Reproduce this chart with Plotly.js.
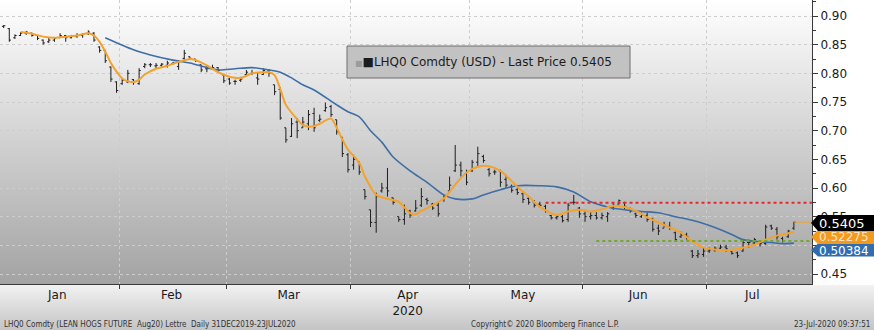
<!DOCTYPE html>
<html>
<head>
<meta charset="utf-8">
<script src="https://cdn.plot.ly/plotly-3.0.1.min.js"></script>
<style>html,body{margin:0;padding:0;background:#fff;}#chart{width:874px;height:330px;}</style>
</head>
<body>
<div id="chart"></div>
<script>
// ---------- DATA ----------
const dates = ['2019-12-31',
'2020-01-02','2020-01-03','2020-01-06','2020-01-07','2020-01-08','2020-01-09','2020-01-10','2020-01-13','2020-01-14','2020-01-15','2020-01-16','2020-01-17','2020-01-21','2020-01-22','2020-01-23','2020-01-24','2020-01-27','2020-01-28','2020-01-29','2020-01-30','2020-01-31',
'2020-02-03','2020-02-04','2020-02-05','2020-02-06','2020-02-07','2020-02-10','2020-02-11','2020-02-12','2020-02-13','2020-02-14','2020-02-18','2020-02-19','2020-02-20','2020-02-21','2020-02-24','2020-02-25','2020-02-26','2020-02-27','2020-02-28',
'2020-03-02','2020-03-03','2020-03-04','2020-03-05','2020-03-06','2020-03-09','2020-03-10','2020-03-11','2020-03-12','2020-03-13','2020-03-16','2020-03-17','2020-03-18','2020-03-19','2020-03-20','2020-03-23','2020-03-24','2020-03-25','2020-03-26','2020-03-27','2020-03-30','2020-03-31',
'2020-04-01','2020-04-02','2020-04-03','2020-04-06','2020-04-07','2020-04-08','2020-04-09','2020-04-13','2020-04-14','2020-04-15','2020-04-16','2020-04-17','2020-04-20','2020-04-21','2020-04-22','2020-04-23','2020-04-24','2020-04-27','2020-04-28','2020-04-29','2020-04-30',
'2020-05-01','2020-05-04','2020-05-05','2020-05-06','2020-05-07','2020-05-08','2020-05-11','2020-05-12','2020-05-13','2020-05-14','2020-05-15','2020-05-18','2020-05-19','2020-05-20','2020-05-21','2020-05-22','2020-05-26','2020-05-27','2020-05-28','2020-05-29',
'2020-06-01','2020-06-02','2020-06-03','2020-06-04','2020-06-05','2020-06-08','2020-06-09','2020-06-10','2020-06-11','2020-06-12','2020-06-15','2020-06-16','2020-06-17','2020-06-18','2020-06-19','2020-06-22','2020-06-23','2020-06-24','2020-06-25','2020-06-26','2020-06-29','2020-06-30',
'2020-07-01','2020-07-02','2020-07-06','2020-07-07','2020-07-08','2020-07-09','2020-07-10','2020-07-13','2020-07-14','2020-07-15','2020-07-16','2020-07-17','2020-07-20','2020-07-21','2020-07-22','2020-07-23'];

const openP = [.882,
.882,.878,.862,.866,.870,.870,.866,.858,.855,.858,.862,.866,.862,.864,.866,.869,.870,.846,.840,.811,.785,
.782,.785,.789,.782,.812,.815,.813,.814,.814,.817,.812,.826,.829,.825,.815,.808,.810,.810,.797,
.790,.786,.788,.798,.800,.792,.798,.804,.780,.772,.705,.690,.715,.705,.712,.730,.718,.735,.742,.719,.689,.658,
.640,.646,.597,.562,.540,.595,.600,.583,.550,.545,.560,.560,.570,.580,.572,.570,.580,.595,.630,.640,.625,
.630,.645,.655,.632,.628,.630,.615,.603,.597,.590,.582,.576,.572,.568,.552,.548,.550,.545,.575,.565,
.555,.550,.552,.548,.550,.565,.572,.574,.564,.555,.550,.552,.546,.530,.530,.533,.522,.515,.518,.490,.482,.484,
.490,.492,.495,.497,.490,.487,.490,.505,.504,.505,.503,.534,.528,.512,.515,.530];

const highP = [.884,
.884,.879,.868,.872,.874,.871,.867,.859,.862,.863,.870,.867,.867,.870,.870,.875,.872,.847,.841,.812,.786,
.792,.806,.790,.809,.818,.818,.818,.818,.822,.820,.823,.841,.829,.825,.815,.813,.815,.811,.797,
.792,.789,.794,.806,.806,.801,.809,.806,.780,.776,.705,.722,.722,.724,.736,.740,.728,.749,.745,.719,.689,.661,
.658,.646,.597,.562,.592,.609,.635,.583,.550,.571,.562,.579,.600,.583,.574,.576,.588,.620,.675,.646,.632,
.649,.672,.658,.635,.632,.632,.623,.606,.600,.592,.585,.579,.576,.571,.553,.553,.553,.574,.588,.567,
.562,.558,.558,.557,.558,.574,.580,.576,.566,.557,.557,.557,.548,.536,.541,.541,.524,.524,.522,.492,.492,.496,
.496,.498,.501,.501,.492,.489,.510,.510,.513,.508,.536,.536,.532,.515,.527,.541];

const lowP = [.880,
.879,.855,.860,.865,.867,.864,.858,.850,.853,.855,.862,.855,.861,.862,.862,.867,.855,.836,.818,.785,.766,
.780,.783,.780,.780,.809,.811,.809,.810,.810,.815,.806,.823,.823,.820,.802,.802,.806,.802,.783,
.780,.780,.785,.797,.797,.780,.797,.794,.762,.719,.679,.689,.687,.705,.701,.698,.715,.733,.724,.693,.654,.627,
.632,.623,.580,.532,.522,.592,.585,.571,.541,.536,.548,.559,.567,.571,.562,.550,.576,.592,.628,.620,.605,
.628,.637,.644,.620,.623,.602,.600,.592,.588,.574,.571,.566,.566,.557,.545,.545,.540,.541,.571,.548,
.541,.545,.545,.545,.541,.562,.571,.562,.557,.548,.548,.541,.524,.518,.531,.527,.506,.513,.510,.478,.478,.480,
.487,.489,.492,.489,.484,.478,.489,.496,.501,.498,.501,.527,.510,.505,.513,.527];

const closeP = [.882,
.883,.858,.866,.870,.872,.866,.861,.853,.858,.861,.866,.862,.865,.866,.868,.872,.858,.840,.822,.790,.770,
.788,.800,.785,.805,.815,.815,.814,.816,.818,.818,.820,.835,.826,.822,.806,.808,.810,.805,.787,
.783,.786,.790,.802,.801,.790,.805,.800,.768,.722,.684,.712,.700,.715,.728,.705,.720,.740,.728,.698,.660,.632,
.650,.628,.585,.540,.585,.600,.595,.575,.545,.555,.553,.565,.585,.578,.565,.555,.585,.605,.640,.630,.610,
.645,.660,.648,.625,.628,.610,.605,.596,.592,.580,.575,.570,.570,.560,.548,.550,.543,.570,.575,.555,
.550,.552,.548,.552,.555,.570,.578,.568,.560,.552,.553,.545,.528,.525,.535,.530,.510,.518,.515,.482,.485,.490,
.492,.495,.497,.494,.486,.482,.505,.505,.510,.503,.532,.530,.515,.508,.525,.5405];

// Moving averages
const fastMaDates = ['2020-01-07','2020-01-09','2020-01-13','2020-01-15','2020-01-17','2020-01-22','2020-01-24','2020-01-27','2020-01-28','2020-01-29','2020-01-30','2020-01-31',
'2020-02-03','2020-02-04','2020-02-05','2020-02-06','2020-02-07','2020-02-11','2020-02-13','2020-02-18','2020-02-20','2020-02-21','2020-02-25','2020-02-27',
'2020-03-02','2020-03-04','2020-03-06','2020-03-10','2020-03-11','2020-03-12','2020-03-13','2020-03-16','2020-03-18','2020-03-19','2020-03-20','2020-03-23','2020-03-24','2020-03-26','2020-03-27','2020-03-30','2020-03-31',
'2020-04-02','2020-04-03','2020-04-06','2020-04-07','2020-04-09','2020-04-14','2020-04-16','2020-04-17','2020-04-20','2020-04-22','2020-04-24','2020-04-28','2020-04-30',
'2020-05-04','2020-05-06','2020-05-08','2020-05-12','2020-05-13','2020-05-15','2020-05-19','2020-05-22','2020-05-27','2020-05-29',
'2020-06-02','2020-06-04','2020-06-08','2020-06-10','2020-06-12','2020-06-16','2020-06-18','2020-06-22','2020-06-24','2020-06-26','2020-06-30',
'2020-07-06','2020-07-08','2020-07-10','2020-07-14','2020-07-16','2020-07-20','2020-07-22','2020-07-23'];
const fastMa = [.872,.869,.864,.862,.864,.866,.870,.866,.855,.838,.818,.803,
.791,.786,.785,.789,.798,.808,.813,.820,.825,.823,.814,.802,
.794,.792,.800,.802,.802,.797,.773,.745,.720,.710,.707,.708,.712,.721,.705,.685,.667,
.644,.620,.602,.588,.581,.576,.556,.554,.560,.570,.582,.606,.627,
.637,.638,.630,.612,.602,.585,.567,.553,.559,.562,
.559,.563,.569,.567,.560,.549,.540,.531,.522,.507,.496,
.492,.492,.496,.501,.510,.517,.521,.52275];

const slowMaDates = ['2020-01-29','2020-02-05','2020-02-10','2020-02-14','2020-02-20','2020-02-25','2020-02-27',
'2020-03-03','2020-03-06','2020-03-11','2020-03-13','2020-03-17','2020-03-19','2020-03-23','2020-03-27','2020-03-31',
'2020-04-02','2020-04-06','2020-04-08','2020-04-13','2020-04-16','2020-04-21','2020-04-24','2020-04-28',
'2020-05-01','2020-05-05','2020-05-08','2020-05-13','2020-05-19','2020-05-22','2020-05-28',
'2020-06-02','2020-06-05','2020-06-10','2020-06-15','2020-06-18','2020-06-23','2020-06-25','2020-06-29',
'2020-07-02','2020-07-08','2020-07-10','2020-07-15','2020-07-17','2020-07-21','2020-07-23'];
const slowMa = [.862,.841,.832,.823,.818,.810,.806,
.808,.810,.806,.802,.792,.780,.771,.745,.733,
.724,.700,.680,.654,.630,.610,.588,.581,
.581,.588,.597,.604,.604,.602,.593,
.576,.567,.562,.559,.557,.550,.546,.541,
.531,.519,.510,.506,.505,.503,.50384];

const resistanceLevel = 0.5745, resistanceStart = '2020-05-20';
const supportLevel = 0.5075, supportStart = '2020-06-03';
const lastPrice = 0.5405;
const lastFast = 0.52275, lastSlow = 0.50384;

const monthTickVals = ['2020-01-15 12:00','2020-02-13 18:00','2020-03-16 12:00','2020-04-15 14:00','2020-05-14 00:00','2020-06-12 10:00','2020-07-13 15:00'];
const monthTickText = ['Jan','Feb','Mar','Apr<br>2020','May','Jun','Jul'];
const monthBounds = ['2020-01-31 12:00','2020-02-28 12:00','2020-03-31 12:00','2020-04-30 12:00','2020-05-29 12:00','2020-06-30 12:00'];
const holidays = ['2020-01-01','2020-01-20','2020-02-17','2020-04-10','2020-05-25','2020-07-03'];

const legendText = 'LHQ0 Comdty (USD) - Last Price ' + lastPrice.toFixed(4);
const footLeft = 'LHQ0 Comdty (LEAN HOGS FUTURE  Aug20) Lettre  Daily 31DEC2019-23JUL2020';
const footMid = 'Copyright\u00A9 2020 Bloomberg Finance L.P.';
const footRight = '23-Jul-2020 09:37:51';

// ---------- LAYOUT HELPERS (pixel positions -> paper) ----------
const W = 874, H = 330, PL = 0, PR = 62, PT = 0, PB = 46;
const PW = W - PL - PR, PH = H - PT - PB;
const px = x => (x - PL) / PW;
const py = y => 1 - (y - PT) / PH;
const xEnd = '2020-07-28 05:00';

function grad(c1, c2) {
  const svg = "<svg xmlns='http://www.w3.org/2000/svg' width='10' height='100' preserveAspectRatio='none'><defs><linearGradient id='g' x1='0' y1='0' x2='0' y2='1'><stop offset='0' stop-color='" + c1 + "'/><stop offset='1' stop-color='" + c2 + "'/></linearGradient></defs><rect width='10' height='100' fill='url(#g)'/></svg>";
  return 'data:image/svg+xml;charset=utf-8,' + encodeURIComponent(svg);
}
function tagPath(yc, h) {
  const t = yc - h / 2, b = yc + h / 2;
  return 'M' + px(811) + ',' + py(yc) + ' L' + px(818) + ',' + py(t) + ' L' + px(874) + ',' + py(t) +
         ' L' + px(874) + ',' + py(b) + ' L' + px(818) + ',' + py(b) + ' Z';
}

const FONT = 'DejaVu Sans, Verdana, sans-serif';
const FOOT = 'Liberation Sans Narrow, DejaVu Sans Condensed, Liberation Sans, sans-serif';

const traces = [
  {type: 'ohlc', x: dates, open: openP, high: highP, low: lowP, close: closeP,
   increasing: {line: {color: '#1e1e1e', width: 1}}, decreasing: {line: {color: '#1e1e1e', width: 1}},
   tickwidth: 0.3, hoverinfo: 'skip', showlegend: false},
  {type: 'scatter', mode: 'lines', x: slowMaDates, y: slowMa,
   line: {color: '#3d6ea6', width: 1.6, shape: 'spline', smoothing: 0.8}, hoverinfo: 'skip', showlegend: false},
  {type: 'scatter', mode: 'lines', x: fastMaDates, y: fastMa,
   line: {color: '#f3a22e', width: 2, shape: 'spline', smoothing: 0.8}, hoverinfo: 'skip', showlegend: false}
];

const layout = {
  width: W, height: H,
  margin: {l: PL, r: PR, t: PT, b: PB, pad: 0},
  paper_bgcolor: '#ffffff', plot_bgcolor: 'rgba(0,0,0,0)',
  showlegend: false, hovermode: false,
  font: {family: FONT, color: '#1a1a1a', size: 12},
  xaxis: {
    type: 'date', range: ['2019-12-31 08:30', xEnd],
    rangebreaks: [{bounds: ['sat', 'mon']}, {values: holidays}],
    rangeslider: {visible: false},
    tickmode: 'array', tickvals: monthTickVals, ticktext: monthTickText,
    ticks: '', showgrid: false, zeroline: false,
    showline: true, linecolor: '#3a3a3a', linewidth: 1,
    tickfont: {family: FONT, size: 12, color: '#1a1a1a'},
    minor: {tickmode: 'array', tickvals: monthBounds, ticks: 'outside', ticklen: 4, tickcolor: '#3a3a3a',
            showgrid: true, gridcolor: '#cdcdcd', griddash: 'dot', gridwidth: 1},
    fixedrange: true
  },
  yaxis: {
    side: 'right', range: [0.4326, 0.9279], dtick: 0.05, tickformat: '.2f',
    ticks: 'outside', ticklen: 5, tickcolor: '#3a3a3a',
    showline: true, linecolor: '#3a3a3a', linewidth: 1,
    showgrid: true, gridcolor: '#cdcdcd', griddash: 'dot', gridwidth: 1, zeroline: false,
    tickfont: {family: FONT, size: 12, color: '#1a1a1a'},
    minor: {dtick: 0.025, ticks: 'outside', ticklen: 3, tickcolor: '#3a3a3a', showgrid: false},
    fixedrange: true
  },
  images: [
    {source: grad('#ffffff', '#a3a3a3'), xref: 'paper', yref: 'paper', x: 0, y: 1, sizex: 1, sizey: 1,
     xanchor: 'left', yanchor: 'top', sizing: 'stretch', layer: 'below'},
    {source: grad('#f2f2f2', '#c4c4c4'), xref: 'paper', yref: 'paper', x: 0, y: py(285), sizex: px(874), sizey: 45 / PH,
     xanchor: 'left', yanchor: 'top', sizing: 'stretch', layer: 'below'}
  ],
  shapes: [
    {type: 'line', xref: 'x', yref: 'y', x0: resistanceStart, x1: xEnd, y0: resistanceLevel, y1: resistanceLevel,
     line: {color: '#e8262e', width: 2, dash: 'dot'}},
    {type: 'line', xref: 'x', yref: 'y', x0: supportStart, x1: xEnd, y0: supportLevel, y1: supportLevel,
     line: {color: '#72a832', width: 2, dash: 'dot'}},
    {type: 'line', xref: 'x', yref: 'y', x0: dates[dates.length - 1], x1: xEnd, y0: lastPrice, y1: lastPrice,
     line: {color: '#f3a22e', width: 1}},
    // legend box
    {type: 'rect', xref: 'paper', yref: 'paper', x0: px(347), x1: px(630), y0: py(46), y1: py(78),
     fillcolor: '#c2c2c2', line: {color: '#6e6e6e', width: 1}},
    // right value tags
    {type: 'path', xref: 'paper', yref: 'paper', path: tagPath(250, 13), fillcolor: '#2f6db0', line: {width: 0}},
    {type: 'path', xref: 'paper', yref: 'paper', path: tagPath(237, 14), fillcolor: '#f39a1e', line: {width: 0}},
    {type: 'path', xref: 'paper', yref: 'paper', path: tagPath(223, 16), fillcolor: '#000000', line: {width: 0}}
  ],
  annotations: [
    {xref: 'paper', yref: 'paper', x: px(353), y: py(62), xanchor: 'left', yanchor: 'middle', showarrow: false,
     text: "<span style='font-size:8px;color:#9c9c9c'>\u25A0</span>\u25A0" + legendText,
     font: {family: FONT, size: 12, color: '#1c1c1c'}},
    {xref: 'paper', yref: 'paper', x: px(817), y: py(250.5), xanchor: 'left', yanchor: 'middle', showarrow: false,
     text: lastSlow.toFixed(5), font: {family: FONT, size: 12, color: '#ffffff'}},
    {xref: 'paper', yref: 'paper', x: px(817), y: py(237), xanchor: 'left', yanchor: 'middle', showarrow: false,
     text: lastFast.toFixed(5), font: {family: FONT, size: 12, color: '#fde3bd'}},
    {xref: 'paper', yref: 'paper', x: px(817), y: py(223), xanchor: 'left', yanchor: 'middle', showarrow: false,
     text: lastPrice.toFixed(4), font: {family: FONT, size: 13, color: '#ffffff'}},
    {xref: 'paper', yref: 'paper', x: px(2), y: py(324), xanchor: 'left', yanchor: 'middle', showarrow: false,
     text: footLeft, font: {family: FOOT, size: 8, color: '#333333'}},
    {xref: 'paper', yref: 'paper', x: px(545), y: py(324), xanchor: 'center', yanchor: 'middle', showarrow: false,
     text: footMid, font: {family: FOOT, size: 8, color: '#333333'}},
    {xref: 'paper', yref: 'paper', x: px(872), y: py(324), xanchor: 'right', yanchor: 'middle', showarrow: false,
     text: footRight, font: {family: FOOT, size: 8, color: '#333333'}}
  ]
};

Plotly.newPlot('chart', traces, layout, {staticPlot: true, displayModeBar: false});
</script>
</body>
</html>
